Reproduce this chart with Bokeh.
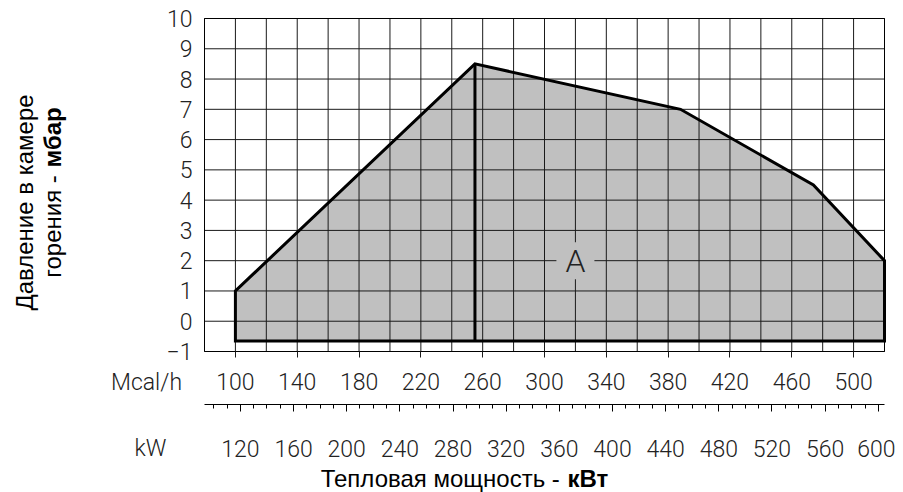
import math
from bokeh.plotting import figure
from bokeh.models import Range1d, LinearAxis, FixedTicker
from bokeh.embed import file_html
from bokeh.resources import INLINE
from bokeh.core.properties import value

# ---- data ----
mcal_x = [100, 255, 388, 474, 520]          # Mcal/h
pressure = [1.0, 8.5, 7.0, 4.5, 2.0]        # mbar
base_pressure = -0.65
split_x = 255
x_min, x_max = 80, 520
y_min, y_max = -1, 10
mcal_ticks = [100, 140, 180, 220, 260, 300, 340, 380, 420, 460, 500]
grid_x = list(range(80, 521, 20))
y_ticks = [-1, 0, 1, 2, 3, 4, 5, 6, 7, 8, 9, 10]
kw_ticks = [120, 160, 200, 240, 280, 320, 360, 400, 440, 480, 520, 560, 600]
kw_minor = list(range(100, 601, 10))
mcal_per_kw = 0.86
zone_label = "A"
zone_x, zone_y = 320, 2

# ---- layout / style ----
W, H = 895, 492
FR_L, FR_T, FR_R, FR_B = 204, 18, 884, 351     # plot-area box, canvas px
RULER_Y = 404                                  # kW ruler, canvas px
TICK_FONT = "Roboto Light"
TICK_SIZE = "23px"
TICK_COLOR = "#222222"
TITLE_FONT = "Liberation Sans"
TITLE_SIZE = "24px"
GRID_COLOR = "#1a1a1a"

sx = (FR_R - FR_L) / (x_max - x_min)
sy = (FR_B - FR_T) / (y_max - y_min)
X0 = x_min - FR_L / sx
X1 = X0 + W / sx
Y1 = y_max + FR_T / sy
Y0 = Y1 - H / sy

def dx(px):
    return X0 + px / sx

def dy(py):
    return Y1 - py / sy

p = figure(width=W, height=H, x_range=Range1d(X0, X1), y_range=Range1d(Y0, Y1),
           output_backend="svg", toolbar_location=None,
           x_axis_location=None, y_axis_location=None, min_border=0)
p.background_fill_color = "white"
p.border_fill_color = "white"
p.outline_line_color = None
p.grid.visible = False

# working-field polygon (fill)
poly_x = [mcal_x[0]] + mcal_x + [mcal_x[-1]]
poly_y = [base_pressure] + pressure + [base_pressure]
p.patch(poly_x, poly_y, fill_color="#c0c0c0", line_color=None)

# grid lines
p.segment(x0=grid_x, x1=grid_x, y0=[y_min] * len(grid_x), y1=[y_max] * len(grid_x),
          line_color=GRID_COLOR, line_width=1)
p.segment(x0=[x_min] * len(y_ticks), x1=[x_max] * len(y_ticks), y0=y_ticks, y1=y_ticks,
          line_color=GRID_COLOR, line_width=1)
# plot-area border
p.quad(left=[x_min], right=[x_max], bottom=[y_min], top=[y_max],
       fill_color=None, line_color="black", line_width=1)

# polygon outline and split line
p.patch(poly_x, poly_y, fill_color=None, line_color="black", line_width=3,
        line_join="miter")
p.line([split_x, split_x], [base_pressure, pressure[1]], line_color="black",
       line_width=3)

# zone label
p.rect(x=[zone_x], y=[zone_y], width=38, height=37, width_units="screen",
       height_units="screen", fill_color="#c0c0c0", line_color=None)
p.text(x=[zone_x], y=[zone_y], text=[zone_label], text_align="center",
       text_baseline="middle", text_font=value(TICK_FONT),
       text_font_size="32px", text_color=TICK_COLOR)

# y axis
ya = LinearAxis(fixed_location=x_min, bounds=(y_min, y_max),
                ticker=FixedTicker(ticks=y_ticks, minor_ticks=[]))
ya.major_label_overrides = {-1: "\u22121"}
ya.major_tick_out = 0
ya.major_tick_in = 0
ya.minor_tick_out = 0
ya.minor_tick_in = 0
ya.axis_line_color = None
ya.major_label_standoff = 12
ya.major_label_text_font = TICK_FONT
ya.major_label_text_font_size = TICK_SIZE
ya.major_label_text_color = TICK_COLOR
p.add_layout(ya, "left")

# Mcal/h axis
xa = LinearAxis(fixed_location=y_min, bounds=(x_min, x_max),
                ticker=FixedTicker(ticks=mcal_ticks, minor_ticks=[]))
xa.major_tick_out = 6
xa.major_tick_in = 0
xa.minor_tick_out = 0
xa.minor_tick_in = 0
xa.major_tick_line_color = GRID_COLOR
xa.axis_line_color = None
xa.major_label_standoff = 15
xa.major_label_text_font = TICK_FONT
xa.major_label_text_font_size = TICK_SIZE
xa.major_label_text_color = TICK_COLOR
p.add_layout(xa, "below")

# kW axis (ruler)
p.extra_x_ranges = {"kw": Range1d(X0 / mcal_per_kw, X1 / mcal_per_kw)}
ka = LinearAxis(x_range_name="kw", fixed_location=dy(RULER_Y),
                bounds=(x_min / mcal_per_kw, x_max / mcal_per_kw),
                ticker=FixedTicker(ticks=kw_ticks, minor_ticks=kw_minor))
ka.axis_line_color = "black"
ka.axis_line_width = 1
ka.major_tick_out = 7
ka.major_tick_in = 0
ka.minor_tick_out = 4
ka.minor_tick_in = 0
ka.major_tick_line_color = "black"
ka.minor_tick_line_color = "black"
ka.major_label_standoff = 28
ka.major_label_text_font = TICK_FONT
ka.major_label_text_font_size = TICK_SIZE
ka.major_label_text_color = TICK_COLOR
p.add_layout(ka, "below")

# unit names
p.text(x=[dx(146)], y=[dy(382)], text=["Mcal/h"], text_font=value(TICK_FONT),
       text_font_size=TICK_SIZE, text_color=TICK_COLOR,
       text_align="center", text_baseline="middle")
p.text(x=[dx(150)], y=[dy(448)], text=["kW"], text_font=value(TICK_FONT),
       text_font_size=TICK_SIZE, text_color=TICK_COLOR,
       text_align="center", text_baseline="middle")

# axis titles
p.text(x=[dx(566)], y=[dy(478)], text=["Тепловая мощность - "],
       text_font=value(TITLE_FONT), text_font_size=TITLE_SIZE,
       text_align="right", text_baseline="middle", text_color="black")
p.text(x=[dx(567)], y=[dy(478)], text=["кВт"],
       text_font=value(TITLE_FONT), text_font_size=TITLE_SIZE, text_font_style="bold",
       text_align="left", text_baseline="middle", text_color="black")
p.text(x=[dx(24)], y=[dy(202)], text=["Давление в камере"], angle=math.pi / 2,
       text_font=value(TITLE_FONT), text_font_size=TITLE_SIZE,
       text_align="center", text_baseline="middle", text_color="black")
p.text(x=[dx(52)], y=[dy(168)], text=["горения - "], angle=math.pi / 2,
       text_font=value(TITLE_FONT), text_font_size=TITLE_SIZE,
       text_align="right", text_baseline="middle", text_color="black")
p.text(x=[dx(52)], y=[dy(167)], text=["мбар"], angle=math.pi / 2,
       text_font=value(TITLE_FONT), text_font_size=TITLE_SIZE, text_font_style="bold",
       text_align="left", text_baseline="middle", text_color="black")

open("out.html", "w").write(file_html(p, INLINE))
